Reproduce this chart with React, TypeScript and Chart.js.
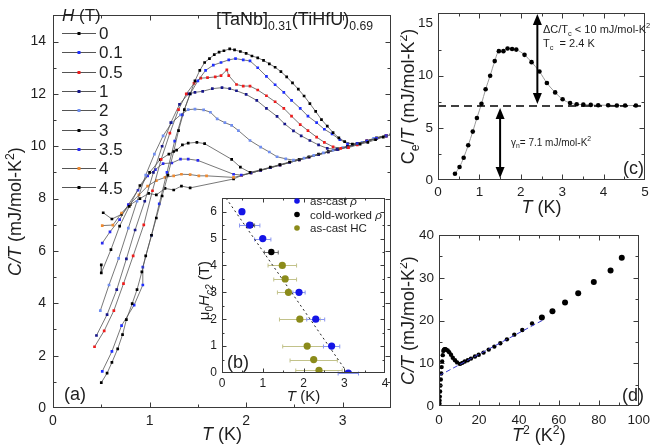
import React, { useEffect, useRef } from "react";
import { Chart, registerables } from "chart.js";
Chart.register(...registerables);

const FONT = "'Liberation Sans', Arial, Helvetica, sans-serif";
const INK = "#1e1e1e";

// ---------------- Panel (a): C/T vs T for several fields ----------------
const fieldLabels = ["0", "0.1", "0.5", "1", "2", "3", "3.5", "4", "4.5"];
const fieldColors = ["#000000", "#1f2fff", "#ee1c1c", "#16168a", "#6f8df0", "#000000", "#2a2af0", "#f08a30", "#000000"];

const H0_T = [0.50,0.56,0.61,0.67,0.72,0.76,0.82,0.87,0.92,0.96,1.02,1.07,1.13,1.19,1.25,1.30,1.36,1.42,1.47,1.52,1.57,1.62,1.67,1.72,1.77,1.83,1.88,1.94,2.00,2.06,2.12,2.18,2.24,2.30,2.36,2.42,2.48,2.54,2.60,2.66,2.72,2.78,2.84,2.90,2.96,3.02,3.10,3.18,3.26,3.34,3.42,3.50];
const H0_C = [0.97,1.33,1.74,2.26,2.80,3.38,3.99,4.52,5.20,5.81,6.60,7.26,8.10,8.90,9.80,10.60,11.40,12.00,12.50,12.90,13.20,13.35,13.50,13.60,13.65,13.72,13.68,13.62,13.55,13.45,13.38,13.28,13.15,13.02,12.85,12.65,12.42,12.18,11.92,11.63,11.33,11.02,10.77,10.52,10.32,10.18,10.08,10.08,10.15,10.25,10.35,10.45];

const H01_T = [0.51,0.61,0.71,0.84,0.93,0.93,1.02,1.10,1.18,1.26,1.34,1.42,1.50,1.58,1.66,1.74,1.82,1.89,1.97,2.04,2.12,2.21,2.30,2.39,2.47,2.56,2.64,2.73,2.81,2.89,2.97,3.05,3.15,3.25,3.35,3.45];
const H01_C = [1.40,2.16,3.15,3.93,4.70,5.38,6.60,7.80,9.00,10.20,11.20,12.00,12.50,12.90,13.10,13.20,13.30,13.35,13.30,13.26,13.00,12.67,12.35,12.06,11.75,11.45,11.15,10.90,10.65,10.47,10.25,10.10,10.10,10.20,10.30,10.40];

const H05_T = [0.43,0.53,0.63,0.73,0.83,0.94,1.03,1.12,1.21,1.30,1.38,1.46,1.53,1.60,1.68,1.74,1.80,1.82,1.90,1.97,2.04,2.12,2.21,2.30,2.39,2.47,2.56,2.64,2.73,2.81,2.90,2.98,3.06,3.15,3.25,3.35,3.45];
const H05_C = [2.34,2.95,3.72,4.75,5.81,7.00,8.30,9.50,10.50,11.40,12.00,12.40,12.60,12.62,12.65,12.70,12.92,12.70,12.36,12.30,12.30,12.15,11.93,11.70,11.45,11.15,10.83,10.60,10.35,10.15,9.98,9.92,9.95,10.05,10.20,10.30,10.40];

const H1_T = [0.45,0.56,0.66,0.76,0.85,0.95,1.04,1.13,1.22,1.31,1.40,1.47,1.55,1.65,1.75,1.83,1.90,2.00,2.11,2.21,2.32,2.40,2.49,2.57,2.66,2.75,2.84,2.94,3.05,3.15,3.25,3.35,3.45];
const H1_C = [2.77,3.57,4.52,5.70,6.80,7.90,9.00,10.00,10.90,11.60,12.00,12.06,12.10,12.20,12.24,12.20,12.12,11.98,11.75,11.45,11.14,10.85,10.59,10.40,10.22,10.05,9.92,9.88,9.97,10.07,10.20,10.30,10.40];

const H2_T = [0.49,0.58,0.68,0.78,0.87,0.96,1.05,1.14,1.23,1.32,1.40,1.47,1.56,1.63,1.70,1.78,1.85,1.92,2.04,2.15,2.24,2.32,2.41,2.49,2.60,2.70,2.80,2.90,3.00,3.10,3.20,3.32,3.45];
const H2_C = [3.72,4.70,5.72,6.87,7.90,8.90,9.70,10.40,10.90,11.20,11.40,11.42,11.39,11.30,11.05,10.90,10.80,10.60,10.22,9.97,9.78,9.60,9.52,9.47,9.55,9.65,9.75,9.85,9.95,10.05,10.15,10.30,10.42];

const H3_T = [0.50,0.50,0.60,0.69,0.79,0.90,1.00,1.11,1.20,1.28,1.34,1.40,1.49,1.57,1.85,1.94,2.04,2.15,2.25,2.35,2.45,2.55,2.65,2.75,2.85,2.95,3.05,3.15,3.25,3.35,3.45];
const H3_C = [5.47,5.16,6.05,6.95,7.70,8.50,9.00,9.49,9.70,9.85,10.05,10.12,10.15,10.10,9.50,9.20,9.00,9.10,9.20,9.30,9.40,9.50,9.60,9.70,9.80,9.90,10.00,10.10,10.20,10.32,10.42];

const H35_T = [0.51,0.59,0.69,0.78,0.88,0.98,1.06,1.14,1.23,1.32,1.40,1.50,1.87,1.95,2.05,2.15,2.25,2.35,2.45,2.55,2.65,2.75,2.85,2.95,3.05,3.15,3.25,3.35,3.45];
const H35_C = [6.30,6.73,7.20,7.77,8.32,8.87,9.11,9.34,9.36,9.51,9.51,9.46,8.93,8.90,8.98,9.08,9.18,9.28,9.38,9.48,9.58,9.68,9.78,9.88,9.98,10.10,10.20,10.30,10.40];

const H4_T = [0.51,0.62,0.71,0.79,0.89,0.98,1.07,1.16,1.25,1.33,1.42,1.51,1.59,1.87,1.95,2.05,2.15,2.25,2.35,2.45,2.55,2.65,2.75,2.85,2.95,3.05,3.15,3.25,3.35,3.45];
const H4_C = [6.97,6.99,7.45,7.77,8.14,8.48,8.69,8.81,8.87,8.93,8.92,8.87,8.87,8.81,8.88,8.98,9.08,9.18,9.28,9.38,9.48,9.58,9.68,9.78,9.88,9.98,10.10,10.20,10.30,10.40];

const H45_T = [0.52,0.61,0.71,0.80,0.90,0.99,1.07,1.16,1.25,1.33,1.42,1.87,1.95,2.05,2.15,2.25,2.35,2.45,2.55,2.65,2.75,2.85,2.95,3.05,3.15,3.25,3.35,3.45];
const H45_C = [7.46,7.22,7.40,7.77,8.00,8.20,8.14,8.39,8.33,8.48,8.41,8.75,8.88,8.98,9.08,9.18,9.28,9.38,9.48,9.58,9.68,9.78,9.88,9.98,10.10,10.20,10.30,10.40];

const seriesT = [H0_T, H01_T, H05_T, H1_T, H2_T, H3_T, H35_T, H4_T, H45_T];
const seriesC = [H0_C, H01_C, H05_C, H1_C, H2_C, H3_C, H35_C, H4_C, H45_C];

const aTicksX = [0, 1, 2, 3];
const aTicksY = [0, 2, 4, 6, 8, 10, 12, 14];

// ---------------- Panel (b): Hc2 vs T ----------------
const rhoCastT = [0.49, 0.68, 1.0, 1.89, 2.3, 2.69, 3.1];
const rhoCastH = [6, 5.5, 5, 3, 2, 1, 0];
const rhoCastErr = [0, 0.25, 0.2, 0.15, 0.22, 0.2, 0.25];
const rhoColdT = [0.7, 1.21];
const rhoColdH = [5.5, 4.5];
const rhoColdErr = [0.1, 0.17];
const hcT = [1.48, 1.55, 1.63, 1.91, 2.09, 2.25, 2.38];
const hcH = [4, 3.5, 3, 2, 1, 0.5, 0.1];
const hcErr = [0.35, 0.28, 0.27, 0.5, 0.6, 0.58, 0.57];
const fitBT = [0.1, 3.08];
const fitBH = [6.5, 0];
const bTicksX = [0, 1, 2, 3, 4];
const bTicksY = [0, 1, 2, 3, 4, 5, 6];

// ---------------- Panel (c): Ce/T vs T ----------------
const cT = [0.41,0.52,0.62,0.73,0.84,0.94,1.05,1.15,1.26,1.37,1.47,1.58,1.68,1.79,1.89,2.09,2.26,2.45,2.63,2.83,3.01,3.19,3.35,3.51,3.69,3.87,4.11,4.32,4.52,4.78];
const cCe = [0.6,1.25,2.14,3.33,4.64,5.95,7.3,8.7,10.0,11.4,12.35,12.35,12.6,12.56,12.5,12.0,11.3,10.4,9.3,8.4,7.74,7.38,7.26,7.23,7.2,7.17,7.17,7.14,7.14,7.14];
const gammaN = 7.1;
const tcArrow = 2.4;
const gammaArrowT = 1.5;
const cTicksX = [0, 1, 2, 3, 4, 5];
const cTicksY = [0, 5, 10, 15];

// ---------------- Panel (d): C/T vs T^2 ----------------
const dT2 = [0.1,0.17,0.27,0.38,0.53,0.71,0.88,1.1,1.32,1.59,1.88,2.16,2.5,2.82,3.2,3.57,4.37,5.1,6.0,6.9,8.0,9.06,10.5,11.7,12.9,14.4,16.0,18.0,19.9,22.3,24.9,27.7,30.7,34.0,37.7,41.7,46.6,51.5,56.8,63.1,69.7,77.5,85.9,91.5];
const dC = [0.3,0.65,1.3,2.2,3.4,4.8,6.2,7.6,9.1,10.4,11.9,12.9,13.2,13.3,13.3,13.2,13.0,12.6,12.0,11.3,10.7,10.2,9.85,10.1,10.4,10.7,11.1,11.6,12.0,12.5,13.2,13.9,14.7,15.6,16.7,17.8,19.3,20.7,22.2,24.2,26.4,29.0,31.7,34.7];
const dFitX = [0, 52];
const dFitY = [7.1, 20.1];
const dTicksX = [0, 20, 40, 60, 80, 100];
const dTicksY = [0, 10, 20, 30, 40];

// ---------------- helpers ----------------
type Seg = { t: string; i?: boolean; s?: "sub" | "sup" };

function segFont(seg: Seg, size: number) {
  const sz = seg.s ? size * 0.68 : size;
  return `${seg.i ? "italic " : ""}${sz}px ${FONT}`;
}
function richWidth(ctx: CanvasRenderingContext2D, segs: Seg[], size: number) {
  let w = 0;
  for (const s of segs) {
    ctx.font = segFont(s, size);
    w += ctx.measureText(s.t).width;
  }
  return w;
}
function drawRich(ctx: CanvasRenderingContext2D, segs: Seg[], x: number, y: number, size: number, align = "center", rot = 0, color = INK) {
  ctx.save();
  ctx.translate(x, y);
  ctx.rotate(rot);
  ctx.fillStyle = color;
  ctx.textBaseline = "alphabetic";
  ctx.textAlign = "left";
  const w = richWidth(ctx, segs, size);
  let cx = align === "center" ? -w / 2 : align === "right" ? -w : 0;
  const base = size * 0.36;
  for (const s of segs) {
    ctx.font = segFont(s, size);
    const dy = s.s === "sub" ? size * 0.26 : s.s === "sup" ? -size * 0.42 : 0;
    ctx.fillText(s.t, cx, base + dy);
    cx += ctx.measureText(s.t).width;
  }
  ctx.restore();
}

function isMult(v: number, step: number) {
  const r = v / step;
  return Math.abs(r - Math.round(r)) < 1e-6;
}

function drawFrame(chart: any, xMaj: number, xMin: number, yMaj: number, yMin: number, majLen = 5, minLen = 3) {
  const { ctx, chartArea: a } = chart;
  const xs = chart.scales.x, ys = chart.scales.y;
  ctx.save();
  ctx.strokeStyle = "#3a3a3a";
  ctx.lineWidth = 1;
  const L = Math.round(a.left) + 0.5, R = Math.round(a.right) - 0.5;
  const T = Math.round(a.top) + 0.5, B = Math.round(a.bottom) - 0.5;
  ctx.strokeRect(L, T, R - L, B - T);
  ctx.beginPath();
  const nx = Math.round((xs.max - xs.min) / xMin);
  for (let i = 1; i < nx; i++) {
    const v = xs.min + i * xMin;
    const len = isMult(v, xMaj) ? majLen : minLen;
    const p = Math.round(xs.getPixelForValue(v)) + 0.5;
    ctx.moveTo(p, B); ctx.lineTo(p, B - len);
    ctx.moveTo(p, T); ctx.lineTo(p, T + len);
  }
  const ny = Math.round((ys.max - ys.min) / yMin);
  for (let i = 1; i < ny; i++) {
    const v = ys.min + i * yMin;
    const len = isMult(v, yMaj) ? majLen : minLen;
    const p = Math.round(ys.getPixelForValue(v)) + 0.5;
    ctx.moveTo(L, p); ctx.lineTo(L + len, p);
    ctx.moveTo(R, p); ctx.lineTo(R - len, p);
  }
  ctx.stroke();
  ctx.restore();
}

function axis(min: number, max: number, ticks: number[], size: number, fontSize: number, padding: number) {
  return {
    type: "linear",
    min,
    max,
    afterBuildTicks: (s: any) => {
      s.ticks = ticks.map((v) => ({ value: v }));
    },
    afterFit: (s: any) => {
      if (s.isHorizontal()) s.height = size;
      else s.width = size;
    },
    grid: { display: false, drawTicks: false },
    border: { display: false },
    ticks: { font: { family: FONT, size: fontSize }, color: INK, padding, maxRotation: 0, autoSkip: false },
  };
}

function baseOptions(pad: any, x: any, y: any) {
  return {
    responsive: false,
    animation: false,
    events: [],
    layout: { padding: pad, autoPadding: false },
    plugins: { legend: { display: false }, tooltip: { enabled: false } },
    scales: { x, y },
  };
}

function xy(xs: number[], ys: number[]) {
  return xs.map((v, i) => ({ x: v, y: ys[i] }));
}

function arrowHead(ctx: CanvasRenderingContext2D, x: number, y: number, dir: number) {
  const len = 11, hw = 4.5;
  ctx.beginPath();
  ctx.moveTo(x, y);
  ctx.lineTo(x - hw, y - dir * len);
  ctx.lineTo(x + hw, y - dir * len);
  ctx.closePath();
  ctx.fill();
}
function doubleArrow(ctx: CanvasRenderingContext2D, x: number, y1: number, y2: number) {
  ctx.save();
  ctx.strokeStyle = "#000";
  ctx.fillStyle = "#000";
  ctx.lineWidth = 2;
  ctx.beginPath();
  ctx.moveTo(x, y1 + 8);
  ctx.lineTo(x, y2 - 8);
  ctx.stroke();
  arrowHead(ctx, x, y1, -1);
  arrowHead(ctx, x, y2, 1);
  ctx.restore();
}

// ---------------- chart configs ----------------
function makeA() {
  const datasets = fieldLabels.map((lab, k) => ({
    type: "scatter",
    label: lab,
    data: xy(seriesT[k], seriesC[k]),
    showLine: true,
    borderColor: "#555555",
    borderWidth: 0.8,
    pointStyle: "rect",
    pointRadius: 1.9,
    pointBackgroundColor: fieldColors[k],
    pointBorderColor: fieldColors[k],
    pointBorderWidth: 0,
  }));
  const decor = {
    id: "decorA",
    afterDraw(chart: any) {
      const ctx = chart.ctx as CanvasRenderingContext2D;
      drawFrame(chart, 1, 0.5, 2, 1);
      const a = chart.chartArea;
      drawRich(ctx, [{ t: "C/T", i: true }, { t: " (mJ/mol-K" }, { t: "2", s: "sup" }, { t: ")" }], 15, (a.top + a.bottom) / 2, 18, "center", -Math.PI / 2);
      drawRich(ctx, [{ t: "T", i: true }, { t: " (K)" }], (a.left + a.right) / 2, 434, 18);
      drawRich(ctx, [{ t: "[TaNb]" }, { t: "0.31", s: "sub" }, { t: "(TiHfU)" }, { t: "0.69", s: "sub" }], 373, 18.5, 18, "right");
      drawRich(ctx, [{ t: "(a)" }], 64, 394, 18, "left");
      // legend
      drawRich(ctx, [{ t: "H", i: true }, { t: " (T)" }], 62, 15, 17, "left");
      fieldLabels.forEach((lab, k) => {
        const y = 33 + k * 19.3;
        ctx.save();
        ctx.strokeStyle = "#555";
        ctx.lineWidth = 1;
        ctx.beginPath();
        ctx.moveTo(62, Math.round(y) + 0.5);
        ctx.lineTo(96, Math.round(y) + 0.5);
        ctx.stroke();
        ctx.fillStyle = fieldColors[k];
        ctx.fillRect(77.5, Math.round(y) - 1, 3, 3);
        ctx.restore();
        drawRich(ctx, [{ t: lab }], 99, y, 17, "left");
      });
    },
  };
  return {
    type: "scatter",
    data: { datasets },
    options: baseOptions({ top: 1, right: 9, left: 0, bottom: 0 }, axis(0, 3.5, aTicksX, 37, 14, 5), axis(0, 15, aTicksY, 53, 14, 7)),
    plugins: [decor],
  };
}

function errBars(ctx: CanvasRenderingContext2D, chart: any, T: number[], H: number[], E: number[], color: string) {
  const xs = chart.scales.x, ys = chart.scales.y;
  ctx.save();
  ctx.strokeStyle = color;
  ctx.lineWidth = 1;
  ctx.beginPath();
  T.forEach((t, i) => {
    if (!E[i]) return;
    const y = Math.round(ys.getPixelForValue(H[i])) + 0.5;
    const x1 = xs.getPixelForValue(t - E[i]);
    const x2 = xs.getPixelForValue(t + E[i]);
    ctx.moveTo(x1, y); ctx.lineTo(x2, y);
    ctx.moveTo(x1, y - 2); ctx.lineTo(x1, y + 2);
    ctx.moveTo(x2, y - 2); ctx.lineTo(x2, y + 2);
  });
  ctx.stroke();
  ctx.restore();
}

function makeB() {
  const blue = "#1414e6", black = "#000000", olive = "#8b8b1a";
  const datasets = [
    { type: "scatter", data: xy(rhoCastT, rhoCastH), pointRadius: 3.6, pointBackgroundColor: blue, pointBorderColor: blue, pointBorderWidth: 0 },
    { type: "scatter", data: xy(rhoColdT, rhoColdH), pointRadius: 3.2, pointBackgroundColor: black, pointBorderColor: black, pointBorderWidth: 0 },
    { type: "scatter", data: xy(hcT, hcH), pointRadius: 3.6, pointBackgroundColor: olive, pointBorderColor: olive, pointBorderWidth: 0 },
    { type: "scatter", data: xy(fitBT, fitBH), showLine: true, borderColor: "#222", borderWidth: 1, borderDash: [2, 3], pointRadius: 0 },
  ];
  const decor = {
    id: "decorB",
    beforeDraw(chart: any) {
      const a = chart.chartArea;
      const ctx = chart.ctx;
      ctx.save();
      ctx.fillStyle = "#fff";
      ctx.fillRect(a.left, a.top, a.right - a.left, a.bottom - a.top);
      ctx.restore();
    },
    beforeDatasetsDraw(chart: any) {
      const ctx = chart.ctx;
      errBars(ctx, chart, hcT, hcH, hcErr, "#c2c28a");
      errBars(ctx, chart, rhoCastT, rhoCastH, rhoCastErr, "#8a96f0");
      errBars(ctx, chart, rhoColdT, rhoColdH, rhoColdErr, "#666");
    },
    afterDraw(chart: any) {
      const ctx = chart.ctx as CanvasRenderingContext2D;
      drawFrame(chart, 1, 0.5, 1, 0.5, 4, 2);
      const a = chart.chartArea;
      drawRich(ctx, [{ t: "μ" }, { t: "0", s: "sub" }, { t: "H", i: true }, { t: "c2", s: "sub", i: true }, { t: " (T)" }], 14, (a.top + a.bottom) / 2 + 5, 15, "center", -Math.PI / 2);
      drawRich(ctx, [{ t: "T", i: true }, { t: " (K)" }], (a.left + a.right) / 2, 210, 15);
      drawRich(ctx, [{ t: "(b)" }], 37, 176, 18, "left");
      const items: [Seg[], string][] = [
        [[{ t: "as-cast " }, { t: "ρ", i: true }], blue],
        [[{ t: "cold-worked " }, { t: "ρ", i: true }], black],
        [[{ t: "as-cast HC" }], olive],
      ];
      items.forEach(([segs, col], k) => {
        const y = 15 + k * 13.5;
        ctx.save();
        ctx.fillStyle = col;
        ctx.beginPath();
        ctx.arc(107, y, 2.8, 0, Math.PI * 2);
        ctx.fill();
        ctx.restore();
        drawRich(ctx, segs, 120, y, 11.5, "left");
      });
    },
  };
  return {
    type: "scatter",
    data: { datasets },
    options: baseOptions({ top: 6, right: 10, left: 0, bottom: 0 }, axis(0, 4, bTicksX, 32, 12, 3), axis(0, 6.5, bTicksY, 32, 12, 5)),
    plugins: [decor],
  };
}

function makeC() {
  const datasets = [
    { type: "scatter", data: xy([0, 5], [gammaN, gammaN]), showLine: true, borderColor: "#000", borderWidth: 1.6, borderDash: [8, 5], pointRadius: 0 },
    { type: "scatter", data: xy(cT, cCe), showLine: true, cubicInterpolationMode: "monotone", borderColor: "#9a9a9a", borderWidth: 1, pointRadius: 2.3, pointBackgroundColor: "#000", pointBorderColor: "#000", pointBorderWidth: 0 },
  ];
  const decor = {
    id: "decorC",
    afterDraw(chart: any) {
      const ctx = chart.ctx as CanvasRenderingContext2D;
      const xs = chart.scales.x, ys = chart.scales.y;
      const a = chart.chartArea;
      const yg = ys.getPixelForValue(gammaN);
      doubleArrow(ctx, xs.getPixelForValue(tcArrow), a.top + 1, yg - 2);
      doubleArrow(ctx, xs.getPixelForValue(gammaArrowT), yg + 2, a.bottom - 2);
      drawFrame(chart, 1, 0.5, 5, 2.5);
      drawRich(ctx, [{ t: "C" }, { t: "e", s: "sub" }, { t: "/" }, { t: "T", i: true }, { t: " (mJ/mol-K" }, { t: "2", s: "sup" }, { t: ")" }], 8, (a.top + a.bottom) / 2, 18, "center", -Math.PI / 2);
      drawRich(ctx, [{ t: "T", i: true }, { t: " (K)" }], (a.left + a.right) / 2, 207, 18);
      drawRich(ctx, [{ t: "ΔC/T" }, { t: "c", s: "sub" }, { t: " < 10 mJ/mol-K" }, { t: "2", s: "sup" }], 143, 29, 11, "left");
      drawRich(ctx, [{ t: "T" }, { t: "c", s: "sub" }, { t: "  = 2.4 K" }], 143, 43, 11, "left");
      drawRich(ctx, [{ t: "γ" }, { t: "n", s: "sub" }, { t: "= 7.1 mJ/mol-K" }, { t: "2", s: "sup" }], 111, 142, 10, "left");
      drawRich(ctx, [{ t: "(c)" }], 244, 168, 18, "right");
    },
  };
  return {
    type: "scatter",
    data: { datasets },
    options: baseOptions({ top: 1, right: 11, left: 0, bottom: 0 }, axis(0, 5, cTicksX, 42, 13.5, 4), axis(0, 16, cTicksY, 38, 13.5, 5)),
    plugins: [decor],
  };
}

function makeD() {
  const datasets = [
    { type: "scatter", data: xy(dFitX, dFitY), showLine: true, borderColor: "#3a3ad0", borderWidth: 1, borderDash: [5, 3], pointRadius: 0 },
    { type: "scatter", data: xy(dT2, dC), pointRadius: dT2.map((v) => (v > 50 ? 3 : 2.2)), pointBackgroundColor: "#000", pointBorderColor: "#000", pointBorderWidth: 0 },
  ];
  const decor = {
    id: "decorD",
    afterDraw(chart: any) {
      const ctx = chart.ctx as CanvasRenderingContext2D;
      const a = chart.chartArea;
      drawFrame(chart, 20, 10, 10, 5);
      drawRich(ctx, [{ t: "C/T", i: true }, { t: " (mJ/mol-K" }, { t: "2", s: "sup" }, { t: ")" }], 8, (a.top + a.bottom) / 2, 18, "center", -Math.PI / 2);
      drawRich(ctx, [{ t: "T", i: true }, { t: "2", s: "sup" }, { t: " (K" }, { t: "2", s: "sup" }, { t: ")" }], (a.left + a.right) / 2, 213, 18);
      drawRich(ctx, [{ t: "(d)" }], 244, 173, 18, "right");
    },
  };
  return {
    type: "scatter",
    data: { datasets },
    options: baseOptions({ top: 4, right: 11, left: 0, bottom: 0 }, axis(0, 100, dTicksX, 39, 13.5, 6), axis(0, 40, dTicksY, 39, 13.5, 5)),
    plugins: [decor],
  };
}

function Panel({ left, top, width, height, make }: { left: number; top: number; width: number; height: number; make: () => any }) {
  const ref = useRef<HTMLCanvasElement>(null);
  useEffect(() => {
    const chart = new Chart(ref.current as HTMLCanvasElement, make());
    return () => chart.destroy();
  }, []);
  return <canvas ref={ref} width={width} height={height} style={{ position: "absolute", left, top, width, height }} />;
}

export default function App() {
  useEffect(() => {
    document.body.style.margin = "0";
    document.body.style.background = "#fff";
  }, []);
  return (
    <div style={{ position: "relative", width: 656, height: 445, background: "#fff", overflow: "hidden" }}>
      <Panel left={0} top={0} width={400} height={445} make={makeA} />
      <Panel left={190} top={186} width={205} height={219} make={makeB} />
      <Panel left={400} top={0} width={256} height={222} make={makeC} />
      <Panel left={400} top={222} width={256} height={223} make={makeD} />
    </div>
  );
}
